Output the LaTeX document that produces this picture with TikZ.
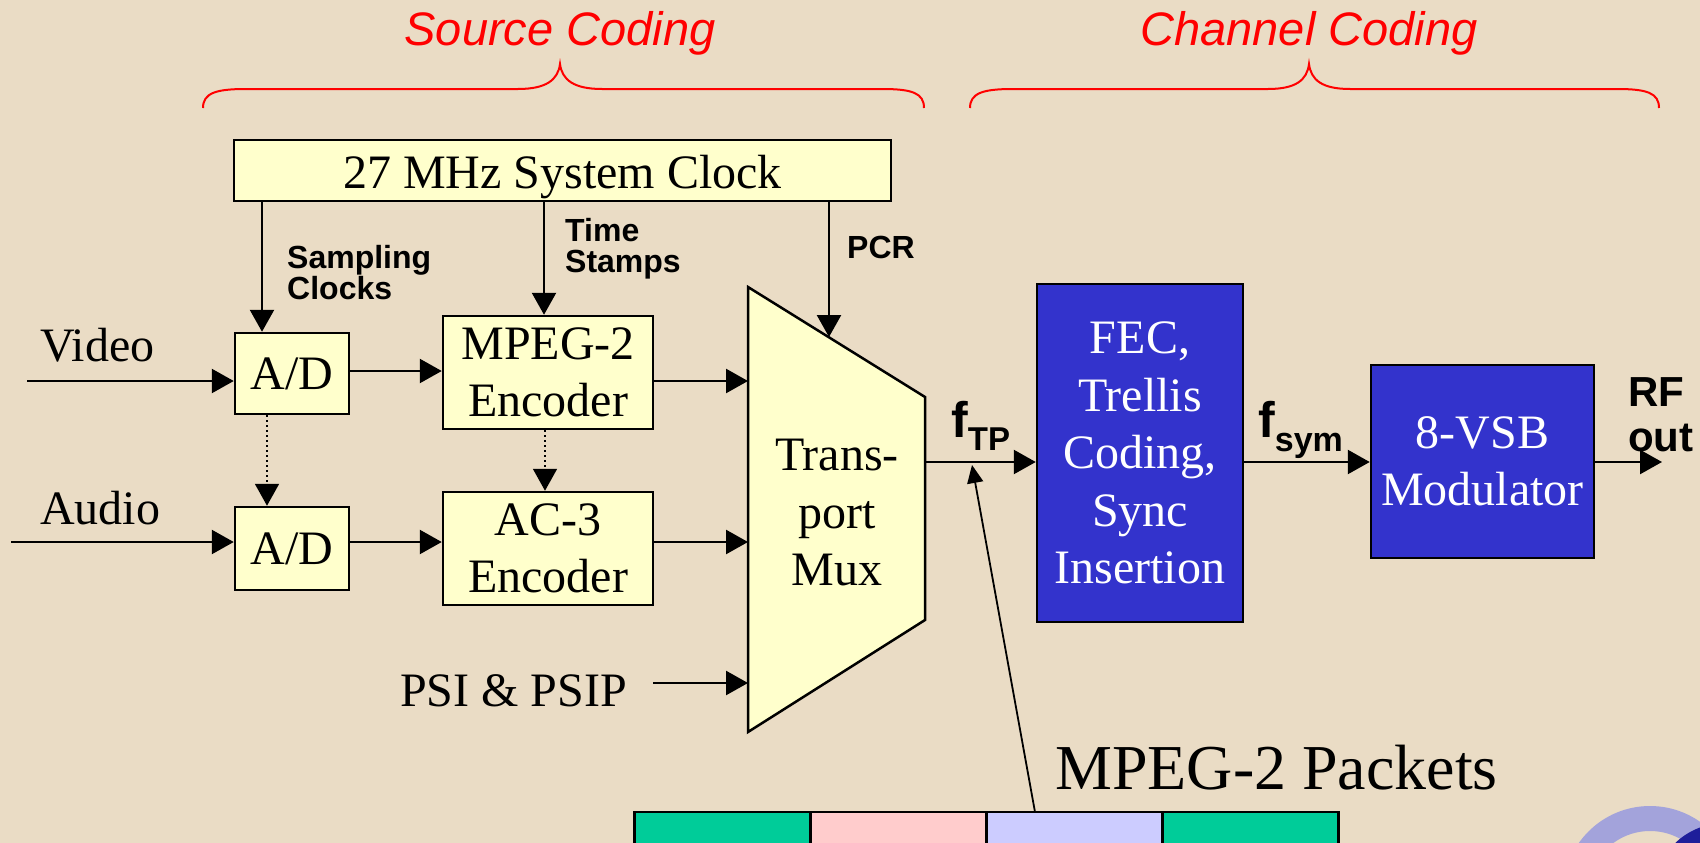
\documentclass[tikz,border=0pt]{standalone}
\usepackage{fontspec}
\setmainfont{Liberation Serif}
\newfontfamily\arialf{Liberation Sans}
\usetikzlibrary{arrows.meta}
\definecolor{bg}{HTML}{EADCC5}
\definecolor{boxy}{HTML}{FFFFCC}
\definecolor{boxb}{HTML}{3333CC}
\definecolor{pgreen}{HTML}{00CC99}
\definecolor{ppink}{HTML}{FFCCCC}
\definecolor{plav}{HTML}{CCCCFF}
\definecolor{logol}{HTML}{A3A3DB}
\definecolor{logod}{HTML}{1E1E9A}
\definecolor{titred}{HTML}{FF0000}
\begin{document}
\begin{tikzpicture}[x=1pt,y=-1pt,
  tm/.style={font=\fontsize{48}{57.5}\selectfont},
  ybox/.style={draw,line width=2.5pt,fill=boxy,tm,align=center,inner sep=0pt},
  bbox/.style={draw,line width=2.5pt,fill=boxb,text=white,tm,align=center,inner sep=0pt},
  arr/.style={line width=2.5pt,-{Triangle[length=22pt,width=24pt]}},
  dotarr/.style={line width=1.8pt,dash pattern=on 2pt off 3pt,-{Triangle[length=22pt,width=24pt]}},
  lbl/.style={font=\arialf\bfseries\fontsize{32}{31}\selectfont,align=left,inner sep=0pt},
  flbl/.style={font=\arialf\bfseries\fontsize{50}{50}\selectfont,inner sep=0pt},
  rflbl/.style={font=\arialf\bfseries\fontsize{42}{45}\selectfont,align=left,inner sep=0pt},
  plain/.style={tm,inner sep=0pt},
  title/.style={font=\arialf\itshape\fontsize{47}{47}\selectfont,text=titred,inner sep=0pt},
  bracestyle/.style={draw=titred,line width=2pt},
  packet/.style={draw,line width=2.5pt,minimum width=176pt,minimum height=60pt,inner sep=0pt},
  pointer/.style={line width=1.8pt,-{Triangle[length=18pt,width=16pt]}}
]
\useasboundingbox (0,0) rectangle (1700,843);
\clip (0,0) rectangle (1700,843);
\fill[bg] (0,0) rectangle (1700,843);

% logo fragment
\fill[logol, even odd rule] (1650,893) circle[radius=87pt] (1650,893) circle[radius=62pt];
\fill[logod] (1725,895) circle[radius=72pt];

% titles and braces
\node[title,anchor=base] (srct) at (560,46) {Source Coding};
\node[title,anchor=base] (chant) at (1309,46) {Channel Coding};
\draw[bracestyle] (203,108) .. controls (203,93) and (216,89) .. (246,89) -- (518,89)
  .. controls (546,89) and (558,80) .. (560,64) .. controls (562,80) and (574,89) .. (602,89)
  -- (882,89) .. controls (912,89) and (924,93) .. (924,108);
\draw[bracestyle] (970,108) .. controls (970,93) and (983,89) .. (1013,89) -- (1268,89)
  .. controls (1296,89) and (1307,80) .. (1309,64) .. controls (1311,80) and (1322,89) .. (1350,89)
  -- (1617,89) .. controls (1647,89) and (1659,93) .. (1659,108);

% clock
\node[ybox,minimum width=657pt,minimum height=61pt,text height=35pt,text depth=0pt] (clock) at (562.5,170.5) {27 MHz System Clock};

% A/D converters and encoders
\node[ybox,minimum width=114pt,minimum height=81pt] (adv) at (292,373.5) {A/D};
\node[ybox,minimum width=114pt,minimum height=83pt] (ada) at (292,548.5) {A/D};
\node[ybox,minimum width=210pt,minimum height=113pt] (mpeg) at (548,372.5) {MPEG-2\\Encoder};
\node[ybox,minimum width=210pt,minimum height=113pt] (ac3) at (548,548.5) {AC-3\\Encoder};

% transport mux
\draw[line width=2.5pt,fill=boxy] (748,287) -- (925,397) -- (925,620) -- (748,732) -- cycle;
\node[plain,align=center] (mux) at (837,513) {Trans-\\port\\Mux};
\coordinate (mux1) at (748,381);
\coordinate (mux2) at (748,542);
\coordinate (mux3) at (748,683);
\coordinate (pcrtip) at (829,337);
\coordinate (muxout) at (925,462);

% right chain
\node[bbox,minimum width=206pt,minimum height=338pt] (fec) at (1140,453) {FEC,\\Trellis\\Coding,\\Sync\\Insertion};
\node[bbox,minimum width=223pt,minimum height=193pt] (mod) at (1482.5,461.5) {8-VSB\\Modulator};
\coordinate (rfend) at (1662,462);

% inputs
\node[plain,anchor=base west] (video) at (40,361) {Video};
\node[plain,anchor=base west] (audio) at (40,524) {Audio};
\node[plain,anchor=base east] (psi) at (627,706) {PSI \& PSIP};
\coordinate (vin) at (27,381);
\coordinate (ain) at (11,542);
\coordinate (psiout) at (653,683);

% clock taps
\coordinate (c1) at (262,201);
\coordinate (c2) at (544,201);
\coordinate (c3) at (829,201);

% labels
\node[lbl,anchor=north west] (samp) at (287,245) {Sampling\\Clocks};
\node[lbl,anchor=north west] (tstamp) at (565,218) {Time\\Stamps};
\node[lbl,anchor=base west] (pcr) at (847,258) {PCR};
\node[flbl,anchor=base west] (ftp) at (951,437) {f\raisebox{-13pt}{\fontsize{33}{33}\selectfont TP}};
\node[flbl,anchor=base west] (fsym) at (1258,437) {f\raisebox{-14pt}{\fontsize{34}{34}\selectfont sym}};
\node[rflbl,anchor=base west] (rf) at (1628,451) {RF\\out};

% packets
\node[plain,anchor=base west] (pkttitle) at (1055,789) {\fontsize{64}{64}\selectfont MPEG-2 Packets};
\node[packet,fill=pgreen] (p1) at (722.5,842) {};
\node[packet,fill=ppink] (p2) at (898.5,842) {};
\node[packet,fill=plav] (p3) at (1074.5,842) {};
\node[packet,fill=pgreen] (p4) at (1250.5,842) {};
\coordinate (pk) at (1035,812);
\coordinate (tptip) at (972,465);

% connectors
\draw[arr] (vin) -- (vin -| adv.west);
\draw[arr] (ain) -- (ain -| ada.west);
\draw[arr] (adv.east |- 0,371) -- (mpeg.west |- 0,371);
\draw[arr] (ada.east |- ain) -- (ac3.west |- ain);
\draw[arr] (mux1 -| mpeg.east) -- (mux1);
\draw[arr] (mux2 -| ac3.east) -- (mux2);
\draw[arr] (psiout) -- (mux3);
\draw[arr] (c1) -- (c1 |- adv.north);
\draw[arr] (c2) -- (c2 |- mpeg.north);
\draw[arr] (c3) -- (pcrtip);
\draw[dotarr] (267,0 |- adv.south) -- (267,0 |- ada.north);
\draw[dotarr] (545,0 |- mpeg.south) -- (545,0 |- ac3.north);
\draw[arr] (muxout) -- (muxout -| fec.west);
\draw[arr] (fec.east |- muxout) -- (mod.west |- muxout);
\draw[arr] (mod.east |- rfend) -- (rfend);
\draw[pointer] (pk) -- (tptip);
\end{tikzpicture}
\end{document}
